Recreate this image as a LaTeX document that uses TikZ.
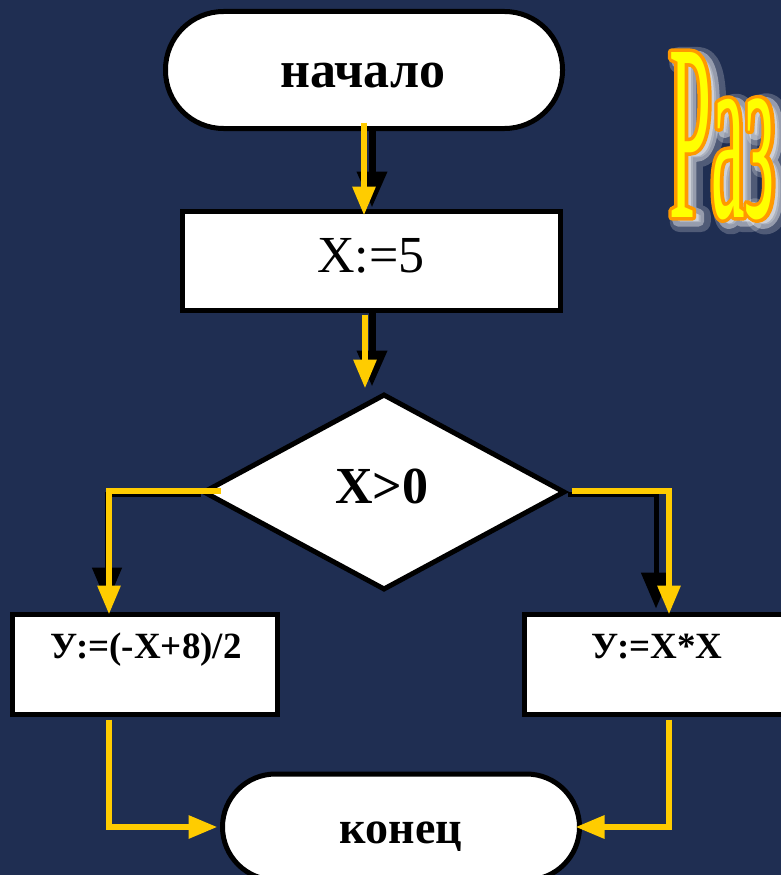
\documentclass[tikz,border=0pt]{standalone}
\usepackage{fontspec}
\setmainfont{Liberation Serif}
\newfontfamily\ttlfont[FakeStretch=0.30]{Liberation Serif}
\usetikzlibrary{arrows.meta,shapes.geometric}
\definecolor{bg}{RGB}{31,46,82}
\definecolor{yel}{RGB}{255,204,0}
\definecolor{ttlyel}{RGB}{255,255,0}
\definecolor{ttlor}{RGB}{255,153,0}
\newcommand\ttlsize{\ttlfont\fontsize{252}{252}\selectfont}
\newcommand\strk[2]{\special{pdf:literal direct 2 Tr #1 w 1 j}#2\special{pdf:literal direct 0 Tr}}
\tikzset{
  box/.style={draw=black, line width=5pt, fill=white, inner sep=0pt},
  yarr/.style={draw=yel, line width=6pt, -{Triangle[width=22pt,length=29pt]}},
  barr/.style={draw=black, line width=7pt, -{Triangle[width=29pt,length=36pt]}},
  lbl/.style={anchor=base, inner sep=0pt, text=black},
  big/.style={font=\fontsize{52}{52}\selectfont},
  mid/.style={font=\fontsize{37}{37}\selectfont\bfseries},
  ttl/.style={anchor=base west, inner sep=0pt, font=\ttlsize},
}
\begin{document}
\begin{tikzpicture}[x=1pt,y=-1pt]
\fill[bg] (0,0) rectangle (781,875);
\useasboundingbox (0,0) rectangle (781,875);
\clip (0,0) rectangle (781,875);

% title (cut by the right edge): glow, orange outline, yellow fill
\node[ttl, text=white, opacity=0.22] (glow1) at (677,222) {\strk{20}{Раз}};
\node[ttl, text=white, opacity=0.40] (glow2) at (675,221) {\strk{11}{Раз}};
\node[ttl, text=ttlor] (edge) at (669,217) {\strk{7}{Раз}};
\node[ttl, text=ttlyel] (title) at (669,217) {Раз};

% shapes
\node[box, rectangle, rounded corners=58pt, minimum width=397pt, minimum height=117pt] (start) at (364,70) {};
\node[box, rectangle, minimum width=378pt, minimum height=99pt] (assign) at (371.5,261) {};
\node[box, diamond, aspect=1.86, minimum width=362pt, minimum height=196pt] (cond) at (384,492) {};
\node[box, rectangle, minimum width=265pt, minimum height=100pt] (left) at (145,664.5) {};
\node[box, rectangle, minimum width=295pt, minimum height=100pt] (right) at (672,664.5) {};
\node[box, rectangle, rounded corners=53pt, minimum width=357pt, minimum height=106pt] (end) at (401,827) {};

% texts
\node[lbl, font=\fontsize{52}{52}\selectfont\bfseries] (t-start) at (363,88) {начало};
\node[lbl, big] (t-assign) at (371,272) {X:=5};
\node[lbl, font=\fontsize{52}{52}\selectfont\bfseries] (t-cond) at (382,503) {X>0};
\node[lbl, mid] (t-left) at (146,658) {У:=(-X+8)/2};
\node[lbl, mid] (t-right) at (657,658) {У:=X*X};
\node[lbl, font=\fontsize{46}{46}\selectfont\bfseries] (t-end) at (401,843) {конец};

% black (original) connectors
\draw[barr] ([xshift=8pt]start.south) -- ([xshift=0.5pt,yshift=1.5pt]assign.north);
\draw[barr] ([xshift=0.5pt]assign.south) -- ([xshift=-12pt,yshift=5pt]cond.north);
\draw[barr, line width=5pt] ([yshift=-2pt]cond.west) -| ([xshift=-38pt,yshift=8.5pt]left.north);
\draw[barr, line width=5pt] ([yshift=-2pt]cond.east) -| ([xshift=-16pt,yshift=3.5pt]right.north);

% yellow connectors
\draw[yarr] ([yshift=8.5pt]start.south) -- ([xshift=-7.5pt,yshift=-6.5pt]assign.north);
\draw[yarr] ([xshift=-6.5pt,yshift=-1.5pt]assign.south) -- ([xshift=-19pt,yshift=3pt]cond.north);
\draw[yarr] ([xshift=20pt,yshift=1pt]cond.west) -| ([xshift=-36pt,yshift=-2.5pt]left.north);
\draw[yarr] ([xshift=4pt,yshift=1pt]cond.east) -| ([xshift=-3pt,yshift=-2.5pt]right.north);
\draw[yarr] ([xshift=-36pt,yshift=-2.5pt]left.south) |- ([xshift=-2.5pt]end.west);
\draw[yarr] ([xshift=-3pt,yshift=-2.5pt]right.south) |- ([xshift=-6.5pt]end.east);
\end{tikzpicture}
\end{document}
